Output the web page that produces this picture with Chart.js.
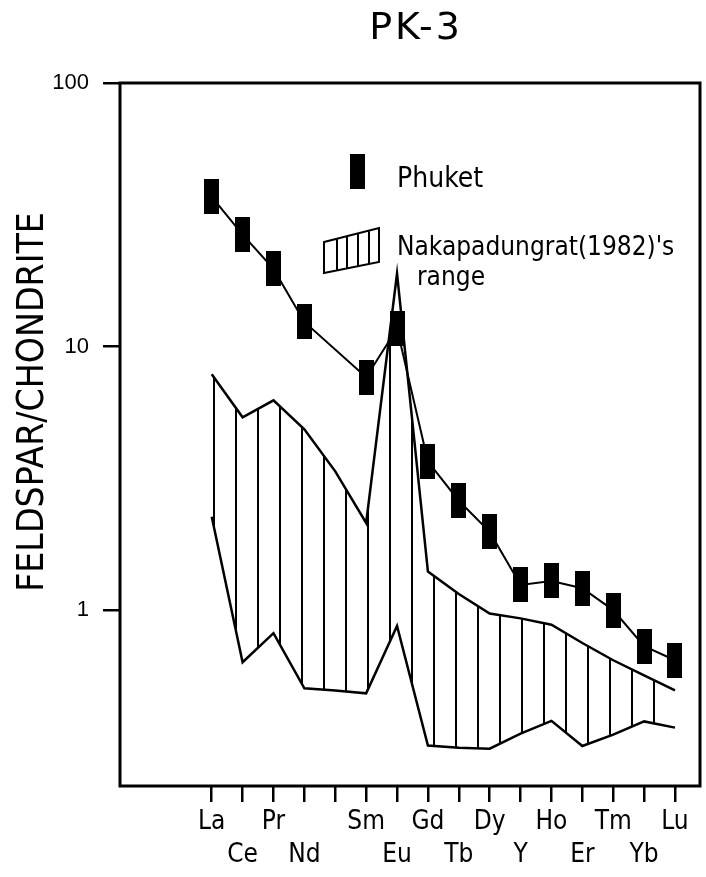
<!DOCTYPE html>
<html>
<head>
<meta charset="utf-8">
<script src="https://cdn.jsdelivr.net/npm/chart.js@4.4.0/dist/chart.umd.min.js"></script>
<style>
  html, body { margin: 0; padding: 0; background: #fff; }
  #wrap { width: 706px; height: 877px; }
</style>
</head>
<body>
<div id="wrap"><canvas id="ree-chart" width="706" height="877"></canvas></div>
<script>
// REE pattern, feldspar normalised to chondrite
const elements = ['La', 'Ce', 'Pr', 'Nd', 'Pm', 'Sm', 'Eu', 'Gd', 'Tb', 'Dy', 'Y', 'Ho', 'Er', 'Tm', 'Yb', 'Lu'];
const topRowLabels = ['La', '', 'Pr', '', '', 'Sm', '', 'Gd', '', 'Dy', '', 'Ho', '', 'Tm', '', 'Lu'];
const bottomRowLabels = ['', 'Ce', '', 'Nd', '', '', 'Eu', '', 'Tb', '', 'Y', '', 'Er', '', 'Yb', ''];
const phuket = [37, 26.6, 19.7, 12.4, null, 7.65, 11.7, 3.66, 2.6, 1.98, 1.245, 1.29, 1.21, 1.0, 0.73, 0.645];
const rangeUpper = [7.85, 5.39, 6.25, 4.85, 3.36, 2.14, 18.9, 1.40, 1.15, 0.97, 0.93, 0.88, 0.75, 0.645, 0.565, 0.496];
const rangeLower = [2.26, 0.634, 0.817, 0.505, 0.495, 0.483, 0.87, 0.306, 0.30, 0.298, 0.34, 0.38, 0.305, 0.337, 0.378, 0.358];
const yTicks = [1, 10, 100];

const FONT = '"DejaVu Sans Condensed", "DejaVu Sans", sans-serif';

const canvas = document.getElementById('ree-chart');
const ctx0 = canvas.getContext('2d');

// vertical hatch for the Nakapadungrat range
function makeHatch() {
  const tile = document.createElement('canvas');
  tile.width = 22;
  tile.height = 8;
  const g = tile.getContext('2d');
  g.fillStyle = '#000';
  g.fillRect(15, 0, 2, 8);
  return ctx0.createPattern(tile, 'repeat');
}

// tall black bar used as Phuket marker
function makeMarker() {
  const m = document.createElement('canvas');
  m.width = 15;
  m.height = 35;
  const g = m.getContext('2d');
  g.fillStyle = '#000';
  g.fillRect(0, 0, 15, 35);
  return m;
}

const markerImg = makeMarker();
const toPoints = arr => arr.map((v, i) => ({ x: i, y: v }));

const decorPlugin = {
  id: 'decor',
  afterDraw(chart) {
    const ctx = chart.ctx;
    const a = chart.chartArea;
    ctx.save();

    // frame
    ctx.strokeStyle = '#000';
    ctx.lineWidth = 3;
    ctx.strokeRect(a.left, a.top, a.right - a.left, a.bottom - a.top);

    // title
    ctx.fillStyle = '#000';
    ctx.font = '38px "DejaVu Sans", sans-serif';
    ctx.textAlign = 'center';
    ctx.textBaseline = 'alphabetic';
    ctx.letterSpacing = '3px';
    ctx.fillText('PK-3', 416, 39);
    ctx.letterSpacing = '0px';

    // y axis title
    ctx.save();
    ctx.translate(33, 402);
    ctx.rotate(-Math.PI / 2);
    ctx.font = '37px ' + FONT;
    ctx.textBaseline = 'middle';
    ctx.fillText('FELDSPAR/CHONDRITE', 0, 0);
    ctx.restore();

    // legend: Phuket
    ctx.drawImage(markerImg, 350, 154);
    ctx.font = '28px ' + FONT;
    ctx.textAlign = 'left';
    ctx.textBaseline = 'alphabetic';
    ctx.fillText('Phuket', 397, 187);

    // legend: hatched box
    ctx.lineWidth = 2;
    ctx.beginPath();
    ctx.moveTo(324, 242);
    ctx.lineTo(379, 228);
    ctx.lineTo(379, 262);
    ctx.lineTo(324, 273);
    ctx.closePath();
    [337, 347, 358, 369].forEach(x => {
      const t = 242 + (x - 324) * (228 - 242) / 55;
      const b = 273 + (x - 324) * (262 - 273) / 55;
      ctx.moveTo(x, t);
      ctx.lineTo(x, b);
    });
    ctx.stroke();
    ctx.font = '26px ' + FONT;
    ctx.fillText('Nakapadungrat(1982)\'s', 397, 255);
    ctx.fillText('range', 417, 285);

    ctx.restore();
  }
};

new Chart(canvas, {
  type: 'line',
  data: {
    datasets: [
      {
        label: 'Phuket',
        data: toPoints(phuket),
        borderColor: '#000',
        borderWidth: 2,
        pointStyle: markerImg,
        spanGaps: true,
        fill: false,
        order: 0
      },
      {
        label: 'range upper',
        data: toPoints(rangeUpper),
        borderColor: '#000',
        borderWidth: 2.5,
        pointRadius: 0,
        fill: '+1',
        backgroundColor: makeHatch(),
        order: 1
      },
      {
        label: 'range lower',
        data: toPoints(rangeLower),
        borderColor: '#000',
        borderWidth: 2.5,
        pointRadius: 0,
        fill: false,
        order: 2
      }
    ]
  },
  options: {
    responsive: false,
    animation: false,
    devicePixelRatio: 1,
    layout: { padding: { top: 83, right: 4, left: 0, bottom: 0 } },
    plugins: {
      legend: { display: false },
      tooltip: { enabled: false },
      title: { display: false }
    },
    scales: {
      x: {
        type: 'linear',
        min: -2.97,
        max: 15.81,
        afterBuildTicks: s => { s.ticks = elements.map((_, i) => ({ value: i })); },
        afterFit: s => { s.height = 91; },
        border: { display: false },
        grid: { drawOnChartArea: false, drawTicks: true, tickLength: 16, color: '#000', lineWidth: 2.5 },
        ticks: {
          autoSkip: false,
          maxRotation: 0,
          padding: 4,
          color: '#000',
          font: { family: FONT, size: 26, lineHeight: 1.27 },
          callback: (v, i) => [topRowLabels[i], bottomRowLabels[i]]
        }
      },
      y: {
        type: 'logarithmic',
        min: 0.215,
        max: 100,
        afterBuildTicks: s => { s.ticks = yTicks.map(v => ({ value: v })); },
        afterFit: s => { s.width = 120; },
        border: { display: false },
        grid: { drawOnChartArea: false, drawTicks: true, tickLength: 17, color: '#000', lineWidth: 2.5 },
        ticks: {
          padding: 14,
          color: '#000',
          font: { family: '"Liberation Sans", Arial, sans-serif', size: 22 },
          callback: v => String(v)
        }
      }
    }
  },
  plugins: [decorPlugin]
});
</script>
</body>
</html>
